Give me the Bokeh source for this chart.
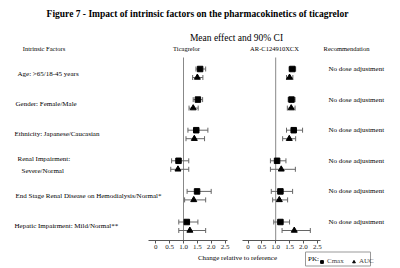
import numpy as np
from bokeh.plotting import figure
from bokeh.models import Range1d, LinearAxis, FixedTicker, ColumnDataSource, Legend, LegendItem
from bokeh.core.properties import value
from bokeh.embed import file_html
from bokeh.resources import INLINE

# ---------------- data ----------------
factor_lines = [
    ["Age: >65/18-45 years"],
    ["Gender: Female/Male"],
    ["Ethnicity: Japanese/Caucasian"],
    ["Renal Impairment:", "Severe/Normal"],
    ["End Stage Renal Disease on Hemodialysis/Normal*"],
    ["Hepatic Impairment: Mild/Normal**"],
]
recommendation = ["No dose adjustment"] * 6

tic_cmax = [1.60, 1.52, 1.46, 0.82, 1.49, 1.12]
tic_cmax_lo = [1.45, 1.35, 1.16, 0.57, 1.13, 0.83]
tic_cmax_hi = [1.80, 1.69, 1.88, 1.19, 2.00, 1.52]
tic_auc = [1.50, 1.35, 1.39, 0.80, 1.37, 1.23]
tic_auc_lo = [1.33, 1.20, 1.09, 0.54, 1.04, 0.83]
tic_auc_hi = [1.70, 1.53, 1.76, 1.19, 1.80, 1.80]

ar_cmax = [1.60, 1.57, 1.65, 1.05, 1.17, 1.17]
ar_cmax_lo = [1.48, 1.45, 1.39, 0.81, 0.84, 0.93]
ar_cmax_hi = [1.72, 1.70, 1.97, 1.37, 1.61, 1.50]
ar_auc = [1.50, 1.56, 1.49, 1.20, 1.13, 1.67]
ar_auc_lo = [1.39, 1.42, 1.25, 0.81, 0.89, 1.23]
ar_auc_hi = [1.62, 1.70, 1.72, 1.71, 1.43, 2.25]

ticks = [0.0, 0.5, 1.0, 1.5, 2.0, 2.5]
tick_labels = ["0", "0.5", "1.0", "1.5", "2.0", "2.5"]

FONT = value("Liberation Serif")

# ---------------- figure ----------------
W, H = 400, 268
p = figure(width=W, height=H, x_range=Range1d(0, W), y_range=Range1d(H, 0),
           output_backend="svg", toolbar_location=None, min_border=0,
           x_axis_type=None, y_axis_type=None)
p.outline_line_color = None
p.background_fill_color = "white"
p.border_fill_color = "white"

# panel scales (data -> pixel), rows
TIC0, AR0, SC = 155.3, 247.5, 27.7
ROW0, ROWH, DODGE = 68.5, 30.6, 8.5
p.extra_x_ranges = {
    "tic": Range1d(-TIC0 / SC, (W - TIC0) / SC),
    "ar": Range1d(-AR0 / SC, (W - AR0) / SC),
}
p.extra_y_ranges = {"row": Range1d((H - ROW0) / ROWH, -ROW0 / ROWH)}

n = len(factor_lines)
rows = list(range(n))
rows_auc = [r + DODGE / ROWH for r in rows]

AXIS_Y = 240
for name, bounds in (("tic", (-0.26, 2.59)), ("ar", (-0.2, 2.62))):
    ax = LinearAxis(x_range_name=name, ticker=FixedTicker(ticks=ticks),
                    bounds=bounds, fixed_location=AXIS_Y)
    ax.major_label_overrides = dict(zip(ticks, tick_labels))
    ax.axis_line_color = "#555555"
    ax.major_tick_line_color = "#555555"
    ax.major_tick_out = 3
    ax.major_tick_in = 0
    ax.minor_tick_out = 0
    ax.minor_tick_in = 0
    ax.major_label_standoff = 1
    ax.major_label_text_font = "Liberation Serif"
    ax.major_label_text_font_size = "7px"
    ax.major_label_text_color = "#222222"
    p.add_layout(ax, "below")

    # reference line at 1.0
    p.segment(x0=[1.0], x1=[1.0], y0=[57], y1=[AXIS_Y], x_range_name=name,
              line_color="#888888", line_width=1)

cmax_r = auc_r = None
for name, c, clo, chi, a, alo, ahi in (
        ("tic", tic_cmax, tic_cmax_lo, tic_cmax_hi, tic_auc, tic_auc_lo, tic_auc_hi),
        ("ar", ar_cmax, ar_cmax_lo, ar_cmax_hi, ar_auc, ar_auc_lo, ar_auc_hi)):
    src = ColumnDataSource(dict(y=rows, ya=rows_auc, c=c, clo=clo, chi=chi,
                                a=a, alo=alo, ahi=ahi))
    kw = dict(source=src, x_range_name=name, y_range_name="row")
    for lo, hi, yy in (("clo", "chi", "y"), ("alo", "ahi", "ya")):
        p.segment(x0=lo, x1=hi, y0=yy, y1=yy, line_color="#666666", line_width=1, **kw)
        for e in (lo, hi):
            p.scatter(x=e, y=yy, marker="dash", angle=np.pi / 2, size=5,
                      line_color="#666666", line_width=1, **kw)
    cmax_r = p.scatter(x="c", y="y", marker="square", size=5.5, color="black", **kw)
    auc_r = p.scatter(x="a", y="ya", marker="triangle", size=6, color="black", **kw)

# ---------------- texts ----------------
def txt(x, y, s, size, align="left", style="normal", color="black"):
    p.text(x=[x], y=[y], text=[s], text_font=FONT, text_font_size=size,
           text_align=align, text_baseline="middle", text_font_style=style,
           text_color=color)

txt(197, 13, "Figure 7 - Impact of intrinsic factors on the pharmacokinetics of ticagrelor",
    "9.5px", "center", "bold")
txt(236, 37, "Mean effect and 90% CI", "9.5px", "center")
txt(43.5, 48, "Intrinsic Factors", "6.5px", "center")
txt(186, 48, "Ticagrelor", "6.5px", "center")
txt(274, 48, "AR-C124910XCX", "6.5px", "center")
txt(346, 48, "Recommendation", "6.5px", "center")

label_x = [17, 15, 14, 17, 15, 14]
label_y = [73, 103, 133, 158, 195, 225.5]
for lines, lx, ly in zip(factor_lines, label_x, label_y):
    for k, s in enumerate(lines):
        txt(lx + 4 * k, ly + 12.5 * k, s, "7px")

for r, s in zip(rows, recommendation):
    p.text(x=[328], y=[r], text=[s], y_range_name="row", text_font=FONT,
           text_font_size="7px", text_align="left", text_baseline="middle")

txt(237, 257.5, "Change relative to reference", "7px", "center")

# legend box
p.quad(left=[305], right=[370], bottom=[265.5], top=[251.5], fill_color=None,
       line_color="#999999", line_width=1)
txt(307.5, 258.5, "PK:", "7px")
legend = Legend(items=[LegendItem(label="Cmax", renderers=[cmax_r]),
                       LegendItem(label="AUC", renderers=[auc_r])],
                orientation="horizontal", location=(318, 3),
                border_line_color=None, background_fill_alpha=0,
                padding=1, margin=0, spacing=3, label_standoff=2,
                glyph_width=7, glyph_height=7,
                label_text_font="Liberation Serif", label_text_font_size="7px",
                label_height=7)
p.add_layout(legend, "center")

open("out.html", "w").write(file_html(p, INLINE))
